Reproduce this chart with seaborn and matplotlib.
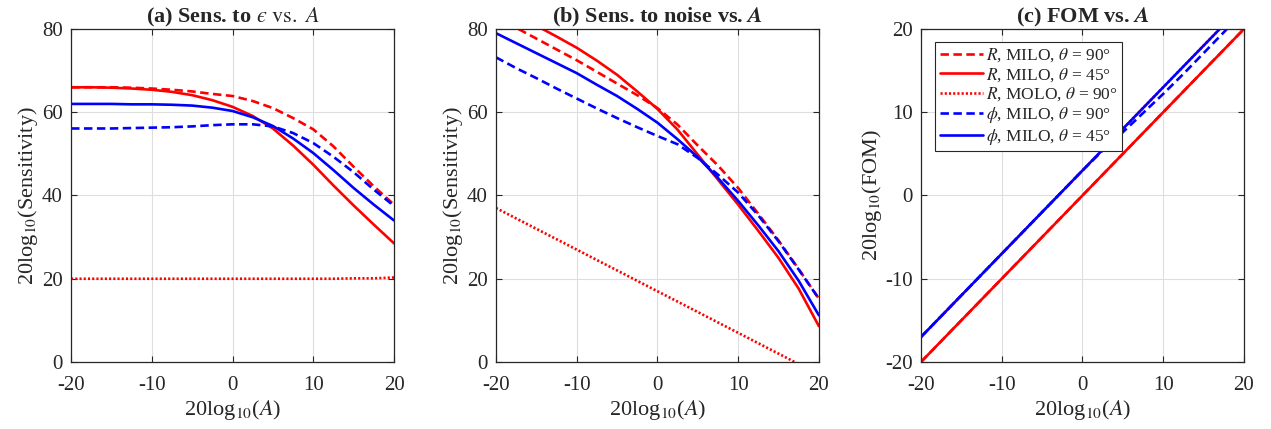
import numpy as np
import pandas as pd
import seaborn as sns
import matplotlib.pyplot as plt

# 20log10(A) sample points shared by every curve
amp_db = [-20, -17.5, -15, -12.5, -10, -7.5, -5, -2.5, 0,
          2.5, 5, 7.5, 10, 12.5, 15, 17.5, 20]

# (a) sensitivity to epsilon
eps_r_milo90 = [66.0, 66.0, 66.0, 65.9, 65.7, 65.4, 65.0, 64.4, 63.9,
                62.7, 61.0, 58.6, 55.9, 51.8, 46.9, 42.2, 37.8]
eps_r_milo45 = [66.0, 66.0, 65.9, 65.7, 65.4, 64.9, 64.1, 62.9, 61.3,
                59.1, 56.1, 52.0, 47.4, 42.4, 37.6, 33.0, 28.5]
eps_r_molo90 = [20.0, 20.0, 20.0, 20.0, 20.0, 20.0, 20.0, 20.0, 20.0,
                20.0, 20.0, 20.0, 20.0, 20.0, 20.1, 20.1, 20.3]
eps_p_milo90 = [56.1, 56.1, 56.1, 56.2, 56.3, 56.4, 56.6, 56.9, 57.1,
                57.1, 56.6, 55.0, 52.6, 49.3, 45.6, 41.4, 37.5]
eps_p_milo45 = [62.0, 62.0, 62.0, 61.9, 61.9, 61.8, 61.6, 61.1, 60.3,
                58.8, 56.7, 53.7, 50.2, 46.1, 41.8, 37.8, 34.0]

# (b) sensitivity to noise
noise_r_milo90 = [83.0, 80.3, 77.7, 75.1, 72.5, 69.7, 66.9, 64.1, 61.0,
                  57.0, 52.0, 47.2, 41.8, 35.6, 29.2, 22.3, 15.2]
noise_r_milo45 = [86.5, 83.5, 80.8, 78.2, 75.5, 72.4, 69.0, 65.0, 60.8,
                  55.8, 49.8, 43.8, 37.8, 31.5, 25.0, 17.6, 8.6]
noise_r_molo90 = [37.0, 34.5, 32.0, 29.5, 27.0, 24.5, 22.0, 19.5, 17.0,
                  14.5, 12.0, 9.5, 7.0, 4.5, 2.0, -0.5, -3.0]
noise_p_milo90 = [73.2, 70.6, 68.2, 65.7, 63.3, 60.9, 58.6, 56.4, 54.3,
                  52.3, 49.0, 45.0, 40.7, 35.2, 29.0, 22.2, 15.2]
noise_p_milo45 = [79.0, 76.6, 74.2, 71.8, 69.4, 66.6, 63.9, 60.8, 57.5,
                  53.5, 49.2, 44.2, 38.7, 32.8, 26.6, 19.5, 11.2]

# (c) figure of merit
fom_r_milo90 = [-20, -17.5, -15, -12.5, -10, -7.5, -5, -2.5, 0,
                2.5, 5, 7.5, 10, 12.5, 15, 17.5, 20]
fom_r_milo45 = [-20, -17.5, -15, -12.5, -10, -7.5, -5, -2.5, 0,
                2.5, 5, 7.5, 10, 12.5, 15, 17.5, 20]
fom_r_molo90 = [-17, -14.5, -12, -9.5, -7, -4.5, -2, 0.5, 3,
                5.5, 8, 10.5, 13, 15.5, 18, 20.5, 23]
fom_p_milo90 = [-17, -14.5, -12, -9.5, -7, -4.5, -2, 0.5, 3,
                5.4, 7.6, 9.9, 12.2, 14.6, 17.1, 19.6, 22.1]
fom_p_milo45 = [-17, -14.5, -12, -9.5, -7, -4.5, -2, 0.5, 3,
                5.5, 8, 10.5, 13, 15.5, 18, 20.5, 23.1]

legend_labels = [r"$R$, MILO, $\theta$ = 90°",
                 r"$R$, MILO, $\theta$ = 45°",
                 r"$R$, MOLO, $\theta$ = 90°",
                 r"$\phi$, MILO, $\theta$ = 90°",
                 r"$\phi$, MILO, $\theta$ = 45°"]

RED, BLUE = '#ff0000', '#0000ff'
DASH = (0, (3.2, 1.7))
DOT = (0, (0.8, 0.8))
styles = [(RED, DASH), (RED, '-'), (RED, DOT), (BLUE, DASH), (BLUE, '-')]

sns.set_theme(style='ticks')
plt.rcParams['font.family'] = ['Liberation Serif', 'DejaVu Serif']
plt.rcParams['mathtext.fontset'] = 'stix'
plt.rcParams['axes.unicode_minus'] = False
INK = '#262626'


def draw_panel(ax, series, title, ylabel, ylim, yticks):
    for vals, (col, ls), lab in zip(series, styles, legend_labels):
        sns.lineplot(x=amp_db, y=vals, ax=ax, color=col, linestyle=ls,
                     linewidth=1.9, label=lab, legend=False)
    ax.set_xlim(-20, 20); ax.set_ylim(*ylim)
    ax.set_xticks([-20, -10, 0, 10, 20]); ax.set_yticks(yticks)
    ax.grid(True, color='#dedede', linewidth=0.8)
    ax.tick_params(direction='in', length=4, width=0.8, colors=INK,
                   labelsize=15, top=True, right=True)
    ax.tick_params(axis='x', pad=10)
    ax.tick_params(axis='y', pad=6)
    for sp in ax.spines.values():
        sp.set_color(INK); sp.set_linewidth(0.9)
    ax.set_title(title, fontsize=16, fontweight='bold', pad=5)
    ax.set_xlabel(r"20log$_{10}$($A$)", fontsize=16, color=INK, labelpad=2)
    ax.set_ylabel(ylabel, fontsize=16, color=INK, labelpad=1)


fig = plt.figure(figsize=(12.71, 4.29), dpi=100)
w, h, b = 0.2541, 0.7762, 0.1562
ax_a = fig.add_axes([0.0559, b, w, h])
ax_b = fig.add_axes([0.3902, b, w, h])
ax_c = fig.add_axes([0.7246, b, w, h])

draw_panel(ax_a, [eps_r_milo90, eps_r_milo45, eps_r_molo90, eps_p_milo90, eps_p_milo45],
           "(a) Sens. to $\u03f5\\ \\mathrm{vs.}\\ A$", r"20log$_{10}$(Sensitivity)",
           (0, 80), [0, 20, 40, 60, 80])
draw_panel(ax_b, [noise_r_milo90, noise_r_milo45, noise_r_molo90, noise_p_milo90, noise_p_milo45],
           r"(b) Sens. to noise vs. $\mathbfit{A}$", r"20log$_{10}$(Sensitivity)",
           (0, 80), [0, 20, 40, 60, 80])
draw_panel(ax_c, [fom_r_milo90, fom_r_milo45, fom_r_molo90, fom_p_milo90, fom_p_milo45],
           r"(c) FOM vs. $\mathbfit{A}$", r"20log$_{10}$(FOM)",
           (-20, 20), [-20, -10, 0, 10, 20])

leg = ax_c.legend(loc='upper left', bbox_to_anchor=(0.045, 0.96), fontsize=12.5,
                  handlelength=2.5, handletextpad=0.15, labelspacing=0.1,
                  borderpad=0.25, borderaxespad=0, frameon=True, fancybox=False,
                  framealpha=1, edgecolor=INK)
leg.get_frame().set_linewidth(0.8)

fig.savefig('out.png', dpi=100)
